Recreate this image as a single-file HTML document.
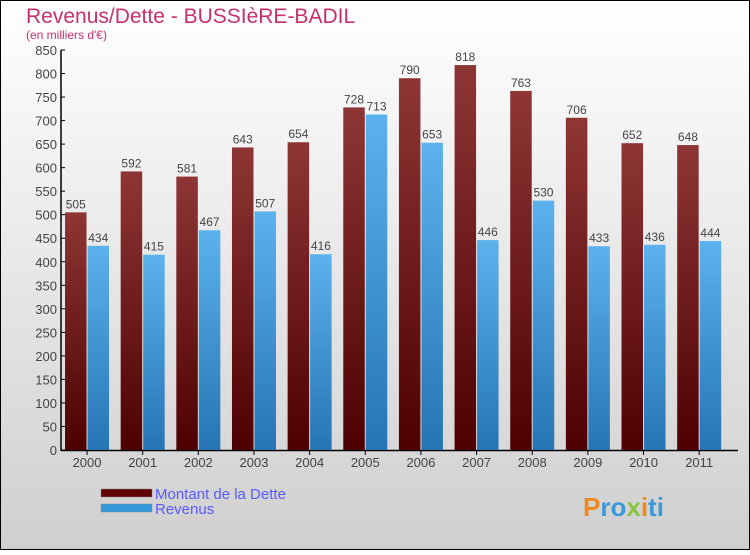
<!DOCTYPE html>
<html><head><meta charset="utf-8"><style>
html,body{margin:0;padding:0}
body{width:750px;height:550px;overflow:hidden;font-family:"Liberation Sans",sans-serif}
</style></head><body>
<svg width="750" height="550" xmlns="http://www.w3.org/2000/svg">
<defs>
<linearGradient id="bg" x1="0" y1="0" x2="0" y2="1"><stop offset="0" stop-color="#ffffff"/><stop offset="1" stop-color="#cfcfcf"/></linearGradient>
<linearGradient id="gd" x1="0" y1="0" x2="0" y2="1"><stop offset="0" stop-color="#8e3636"/><stop offset="1" stop-color="#4e0000"/></linearGradient>
<linearGradient id="gr" x1="0" y1="0" x2="0" y2="1"><stop offset="0" stop-color="#5cb2ec"/><stop offset="1" stop-color="#2674b4"/></linearGradient>
</defs>
<rect x="0.5" y="0.5" width="749" height="549" fill="url(#bg)" stroke="#000"/>
<text x="26" y="23" font-size="21" fill="#c8306a">Revenus/Dette - BUSSIèRE-BADIL</text>
<text x="26" y="39" font-size="12" fill="#c8306a">(en milliers d'€)</text>
<g id="axes"></g>
<g id="bars"></g>
<g>
<rect x="101" y="489" width="51" height="8" fill="#600000" stroke="#888" stroke-width="0.5"/>
<text x="155" y="499" font-size="15" fill="#5a5aff">Montant de la Dette</text>
<rect x="101" y="504" width="51" height="8" fill="#3399dd" stroke="#888" stroke-width="0.5"/>
<text x="155" y="514" font-size="15" fill="#5a5aff">Revenus</text>
</g>
<text x="583" y="516" font-size="26" font-weight="bold" fill="#3a9ad9"><tspan fill="#f08a1e">P</tspan><tspan fill="#3a9ad9">ro</tspan><tspan fill="#8bc53f">x</tspan><tspan fill="#f08a1e">i</tspan><tspan fill="#3a9ad9">ti</tspan></text>
</svg>
<script>
const years=["2000","2001","2002","2003","2004","2005","2006","2007","2008","2009","2010","2011"];
const dette=[505,592,581,643,654,728,790,818,763,706,652,648];
const revenus=[434,415,467,507,416,713,653,446,530,433,436,444];
const yTicks=[0,50,100,150,200,250,300,350,400,450,500,550,600,650,700,750,800,850];
const NS="http://www.w3.org/2000/svg";
const y0=450,yMaxPx=50,yMax=850;
function Y(v){return y0-(v/yMax)*(y0-yMaxPx);}
const band=55.65,xStart=59.2;
function X(i){return xStart+band*i;}
function mk(t,a,p,txt){const e=document.createElementNS(NS,t);for(const k in a)e.setAttribute(k,a[k]);if(txt!==undefined)e.textContent=txt;p.appendChild(e);return e;}
const ax=document.getElementById('axes'),bg=document.getElementById('bars');
yTicks.forEach(v=>{
  const l=mk('line',{x1:61,x2:65,y1:Y(v),y2:Y(v),stroke:'#000'},ax);
  
  
  const t=mk('text',{x:57,y:Y(v)+5,'font-size':13,fill:'#444','text-anchor':'end'},ax,String(v));
  
  
});
const ya=mk('line',{x1:61,x2:61,y1:50,y2:451,stroke:'#000','stroke-width':1.5},ax);


const xa=mk('line',{x1:61,x2:738,y1:450.5,y2:450.5,stroke:'#000','stroke-width':1.5},ax);


years.forEach((yr,i)=>{
  const c=X(i)+band/2;
  const tk=mk('line',{x1:c,x2:c,y1:450,y2:455,stroke:'#000'},ax);
  
  
  const t=mk('text',{x:c,y:467,'font-size':13,fill:'#444','text-anchor':'middle'},ax,yr);
  
  
  const bw=21.5;
  const bx1=c-bw-0.5,bx2=c+0.5;
  const r1=mk('rect',{x:bx1,y:Y(dette[i]),width:bw,height:y0-Y(dette[i]),fill:'url(#gd)'},bg);
  
  
  const r2=mk('rect',{x:bx2,y:Y(revenus[i]),width:bw,height:y0-Y(revenus[i]),fill:'url(#gr)'},bg);
  
  
  const l1=mk('text',{x:bx1+bw/2,y:Y(dette[i])-4,'font-size':12,fill:'#444','text-anchor':'middle'},bg,String(dette[i]));
  
  
  const l2=mk('text',{x:bx2+bw/2,y:Y(revenus[i])-4,'font-size':12,fill:'#444','text-anchor':'middle'},bg,String(revenus[i]));
  
  
});
</script>
</body></html>
